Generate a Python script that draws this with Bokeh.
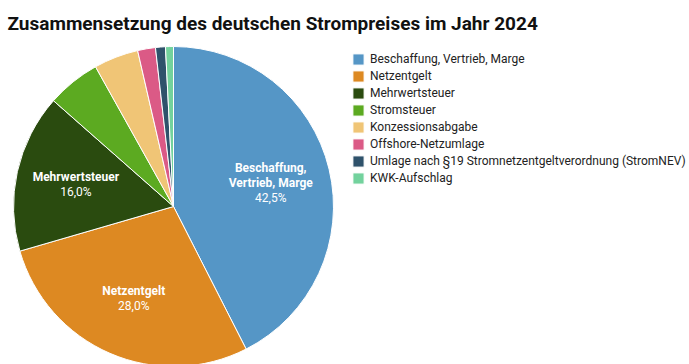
import math
from bokeh.plotting import figure
from bokeh.models import Range1d, ColumnDataSource, Legend, LegendItem
from bokeh.core.properties import value
from bokeh.embed import file_html
from bokeh.resources import INLINE

title_text = "Zusammensetzung des deutschen Strompreises im Jahr 2024"
categories = [
    "Beschaffung, Vertrieb, Marge",
    "Netzentgelt",
    "Mehrwertsteuer",
    "Stromsteuer",
    "Konzessionsabgabe",
    "Offshore-Netzumlage",
    "Umlage nach §19 Stromnetzentgeltverordnung (StromNEV)",
    "KWK-Aufschlag",
]
shares = [42.5, 28.0, 16.0, 5.4, 4.5, 1.8, 1.0, 0.8]
colors = ["#5596C6", "#DD8922", "#2A4B0F", "#5CAA21", "#F0C576", "#DB5A86", "#2F526B", "#73D29D"]
slice_label_lines = [["Beschaffung,", "Vertrieb, Marge"], ["Netzentgelt"], ["Mehrwertsteuer"], [], [], [], [], []]

W, H = 689, 364
# data coords: x = page x, y = H - page y
def py(y):
    return H - y

CX, CY, R = 173, py(206), 160
LABEL_R = 100
LINE_H = 15

total = sum(shares)
starts, ends, mids = [], [], []
c = 0.0
for s in shares:
    c0 = c / total
    c += s
    c1 = c / total
    starts.append(math.pi / 2 - c1 * 2 * math.pi)
    ends.append(math.pi / 2 - c0 * 2 * math.pi)
    mids.append((c0 + c1) / 2 * 2 * math.pi)

src = ColumnDataSource(dict(cat=categories, share=shares, color=colors, start=starts, end=ends))

p = figure(width=W, height=H, output_backend="svg", toolbar_location=None,
           x_range=Range1d(0, W), y_range=Range1d(0, H),
           min_border=0, outline_line_color=None, background_fill_color="white")
p.axis.visible = False
p.grid.visible = False

wr = p.wedge(x=CX, y=CY, radius=R, start_angle="start", end_angle="end",
             fill_color="color", line_color="white", line_width=1, source=src)

# slice labels
bx, by, bt, nx, ny, nt = [], [], [], [], [], []
for i, lines in enumerate(slice_label_lines):
    if not lines:
        continue
    th = mids[i]
    px = CX + LABEL_R * math.sin(th)
    pyc = CY + LABEL_R * math.cos(th)
    n = len(lines) + 1
    for k, t in enumerate(lines):
        bx.append(px)
        by.append(pyc - (k - (n - 1) / 2) * LINE_H)
        bt.append(t)
    nx.append(px)
    ny.append(pyc - ((n - 1) - (n - 1) / 2) * LINE_H)
    nt.append(("%.1f" % shares[i]).replace(".", ",") + "%")

p.text(x=bx, y=by, text=bt, text_align="center", text_baseline="middle",
       text_color="white", text_font=value("Roboto"), text_font_style="bold",
       text_font_size="12px")
p.text(x=nx, y=ny, text=nt, text_align="center", text_baseline="middle",
       text_color="white", text_font=value("Roboto"), text_font_size="12px")

# title
p.text(x=[7], y=[py(23)], text=[title_text], text_align="left", text_baseline="alphabetic",
       text_color="#111111", text_font=value("Roboto"), text_font_style="bold",
       text_font_size="19px")

items = [LegendItem(label=cat, renderers=[wr], index=i) for i, cat in enumerate(categories)]
legend = Legend(items=items, location=(351, 179), padding=0, margin=0, spacing=3,
                glyph_height=14, glyph_width=14, label_height=14, label_standoff=5,
                label_text_font="Roboto", label_text_font_size="12px",
                label_text_color="#222222", border_line_alpha=0, background_fill_alpha=0)
p.add_layout(legend, "center")

open("out.html", "w").write(file_html(p, INLINE))
